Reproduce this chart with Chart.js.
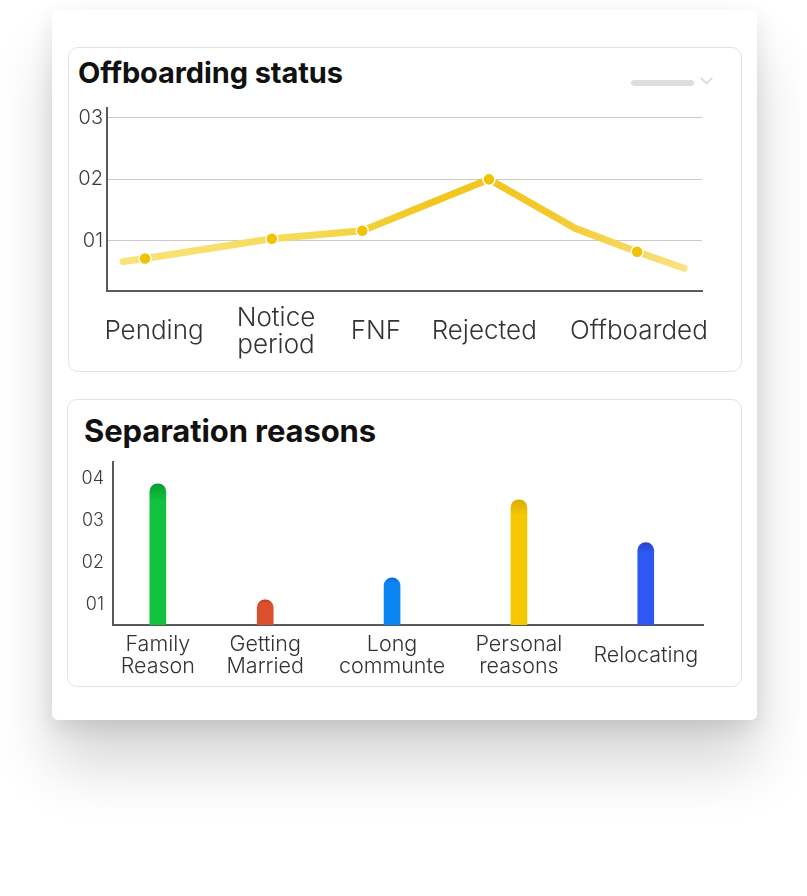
<!DOCTYPE html>
<html>
<head>
<meta charset="utf-8">
<script src="https://cdn.jsdelivr.net/npm/chart.js@4.4.0/dist/chart.umd.min.js"></script>
<style>
  body { margin: 0; background: #fff; width: 807px; height: 896px; position: relative; overflow: hidden; font-family: Inter, "Noto Sans", sans-serif; }
  .card { position: absolute; left: 52px; top: 10px; width: 705px; height: 710px; background: #fff; border-radius: 6px;
    box-shadow: 0 45px 60px rgba(0,0,0,0.16), 0 8px 22px rgba(0,0,0,0.10); }
  .panel { position: absolute; background: #fff; border: 1px solid #e3e3e3; border-radius: 10px; }
  .title { position: absolute; font-weight: 700; color: #111; letter-spacing: -0.1px; }
  .pill { position: absolute; left: 631px; top: 80px; width: 63px; height: 6px; border-radius: 3px; background: #dedede; }
  .chev { position: absolute; left: 702px; top: 74px; width: 7px; height: 7px; border-right: 2px solid #dedede; border-bottom: 2px solid #dedede; transform: rotate(45deg); }
  canvas { position: absolute; }
</style>
</head>
<body>
<div class="card"></div>
<div class="panel" style="left:68px;top:47px;width:672px;height:323px;"></div>
<div class="title" style="left:78px;top:55px;font-size:29px;">Offboarding status</div>
<div class="pill"></div>
<div class="chev"></div>
<canvas id="statusChart" width="673" height="265" style="left:68px;top:100px;"></canvas>

<div class="panel" style="left:67px;top:399px;width:673px;height:286px;"></div>
<div class="title" style="left:84px;top:412px;font-size:31px;">Separation reasons</div>
<canvas id="reasonChart" width="674" height="225" style="left:67px;top:455px;"></canvas>

<script>
// offboarding status
const statusLabels = ["Pending", ["Notice", "period"], "FNF", "Rejected", "Offboarded"];
const statusLabelX = [7.9, 28.4, 45.2, 63.4, 89.4];
const statusX = [6.4, 27.7, 42.9, 64.2, 89.1];
const statusValues = [0.71, 1.03, 1.16, 2.0, 0.82];
// the trend line runs a bit past the dots and bends once after Rejected
const trendX = [2.7, 6.4, 27.7, 42.9, 64.2, 78.7, 89.1, 97.0];
const trendValues = [0.66, 0.71, 1.03, 1.16, 2.0, 1.2, 0.82, 0.55];
const statusTicks = [1, 2, 3];

// separation reasons
const reasonLabels = [["Family", "Reason"], ["Getting", "Married"], ["Long", "communte"], ["Personal", "reasons"], "Relocating"];
const reasonX = [7.6, 25.8, 47.3, 68.8, 90.3];
const reasonValues = [3.88, 1.12, 1.64, 3.5, 2.48];
const reasonTicks = [1, 2, 3, 4];
const reasonColors = ["#10c23e", "#db4f2c", "#0a86f3", "#f6c802", "#2f57f3"];
const reasonTops = ["#0a9d33", "#b93d22", "#0a6fd6", "#d9ac00", "#2544cc"];

const labelFont = { family: "Inter, 'Noto Sans', sans-serif", weight: 300 };

function twoDigits(v) {
  return "0" + v;
}

// drop the extra room chart.js keeps for half a tick label
function noPadY(s) {
  s.paddingTop = 0;
  s.paddingBottom = 0;
}
function noPadX(s) {
  s.paddingLeft = 0;
  s.paddingRight = 0;
}

function lineGradient(ctx) {
  const area = ctx.chart.chartArea;
  if (!area) return "#f2c94c";
  const g = ctx.chart.ctx.createLinearGradient(area.left, 0, area.right, 0);
  g.addColorStop(0, "#f8e47f");
  g.addColorStop(0.35, "#f6da55");
  g.addColorStop(0.55, "#f1c51c");
  g.addColorStop(0.75, "#f3c92c");
  g.addColorStop(1, "#f9e690");
  return g;
}

new Chart(document.getElementById("statusChart"), {
  type: "line",
  data: {
    datasets: [
      {
        data: statusX.map((x, i) => ({ x: x, y: statusValues[i] })),
        showLine: false,
        pointRadius: 6,
        pointBackgroundColor: "#f2c200",
        pointBorderColor: "#ffffff",
        pointBorderWidth: 1.5,
      },
      {
        data: trendX.map((x, i) => ({ x: x, y: trendValues[i] })),
        borderColor: lineGradient,
        borderWidth: 7,
        borderCapStyle: "round",
        borderJoinStyle: "round",
        pointRadius: 0,
        tension: 0,
      },
    ],
  },
  options: {
    responsive: false,
    animation: false,
    layout: { padding: { left: 0, right: 39, top: 8, bottom: 0 } },
    plugins: { legend: { display: false }, tooltip: { enabled: false } },
    scales: {
      x: {
        type: "linear",
        min: 0,
        max: 100,
        afterFit: (s) => { s.height = 74; noPadX(s); },
        afterBuildTicks: (s) => { s.ticks = statusLabelX.map((v) => ({ value: v })); },
        grid: { display: false },
        border: { display: true, color: "#5a5a5a", width: 2 },
        ticks: {
          autoSkip: false,
          maxRotation: 0,
          padding: 19,
          crossAlign: "center",
          color: "#333",
          font: { ...labelFont, size: 26, lineHeight: "27px" },
          callback: (v, i) => statusLabels[i],
        },
      },
      y: {
        min: 0.18,
        max: 3.16,
        afterFit: (s) => { s.width = 39; noPadY(s); },
        afterBuildTicks: (s) => { s.ticks = statusTicks.map((v) => ({ value: v })); },
        grid: { color: "#c9c9c9", lineWidth: 1, drawTicks: false },
        border: { display: true, color: "#5a5a5a", width: 2 },
        ticks: {
          padding: 4,
          color: "#3a3a3a",
          font: { ...labelFont, size: 20 },
          callback: twoDigits,
        },
      },
    },
  },
});

function barGradient(ctx) {
  const area = ctx.chart.chartArea;
  const i = ctx.dataIndex;
  if (!area || i === undefined) return reasonColors[i || 0];
  const top = ctx.chart.scales.y.getPixelForValue(reasonValues[i]);
  const g = ctx.chart.ctx.createLinearGradient(0, top, 0, area.bottom);
  g.addColorStop(0, reasonTops[i]);
  g.addColorStop(0.12, reasonColors[i]);
  g.addColorStop(1, reasonColors[i]);
  return g;
}

new Chart(document.getElementById("reasonChart"), {
  type: "bar",
  data: {
    datasets: [
      {
        data: reasonX.map((x, i) => ({ x: x, y: reasonValues[i] })),
        backgroundColor: barGradient,
        barThickness: 16,
        borderRadius: { topLeft: 8, topRight: 8 },
        borderSkipped: false,
      },
    ],
  },
  options: {
    responsive: false,
    animation: false,
    layout: { padding: { left: 0, right: 38, top: 7, bottom: 0 } },
    plugins: { legend: { display: false }, tooltip: { enabled: false } },
    scales: {
      x: {
        type: "linear",
        min: 0,
        max: 100,
        offset: false,
        afterFit: (s) => { s.height = 55; noPadX(s); },
        afterBuildTicks: (s) => { s.ticks = reasonX.map((v) => ({ value: v })); },
        grid: { display: false },
        border: { display: true, color: "#5a5a5a", width: 2 },
        ticks: {
          autoSkip: false,
          maxRotation: 0,
          padding: 12,
          crossAlign: "center",
          color: "#333",
          font: { ...labelFont, size: 21.5, lineHeight: "22px" },
          callback: (v, i) => reasonLabels[i],
        },
      },
      y: {
        min: 0.52,
        max: 4.4,
        afterFit: (s) => { s.width = 46; noPadY(s); },
        afterBuildTicks: (s) => { s.ticks = reasonTicks.map((v) => ({ value: v })); },
        grid: { display: false, drawTicks: false },
        border: { display: true, color: "#5a5a5a", width: 2 },
        ticks: {
          padding: 9,
          color: "#3a3a3a",
          font: { ...labelFont, size: 18 },
          callback: twoDigits,
        },
      },
    },
  },
});
</script>
</body>
</html>
